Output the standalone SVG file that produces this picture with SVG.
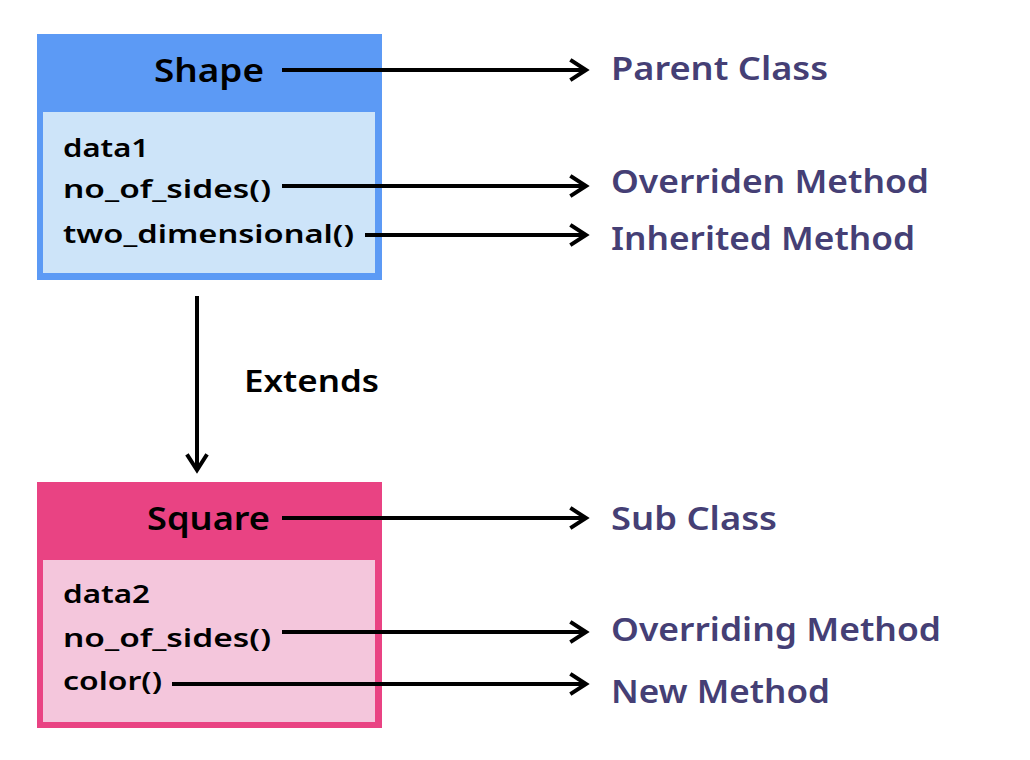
<svg xmlns="http://www.w3.org/2000/svg" width="1030" height="760" viewBox="0 0 1030 760">
<defs>
<marker id="chev" markerUnits="userSpaceOnUse" markerWidth="24" markerHeight="24" viewBox="-20 -12 24 24" refX="0" refY="0" orient="auto">
<polyline points="-14,-9 0,0 -14,9" fill="none" stroke="#000" stroke-width="4" stroke-linecap="square" stroke-linejoin="miter"/>
</marker>
</defs>
<style>
.t{font-family:"Noto Sans","Open Sans",sans-serif;font-weight:600;}
.title{font-size:32px;fill:#000;}
.mem{font-size:26px;fill:#000;}
.lab{font-size:32px;fill:#453f75;}
.ext{font-size:30px;fill:#000;}
.c{stroke:#000;stroke-width:4;fill:none;marker-end:url(#chev);}
</style>
<rect width="1030" height="760" fill="#fff"/>
<g id="shape">
<rect x="37" y="34" width="345" height="246" fill="#5c9af5"/>
<rect x="43" y="112" width="332" height="161" fill="#cde4f9"/>
<text class="t title" x="154" y="82" textLength="110" lengthAdjust="spacingAndGlyphs">Shape</text>
<text class="t mem" x="63" y="157" textLength="86" lengthAdjust="spacingAndGlyphs">data1</text>
<text class="t mem" x="63" y="198" textLength="208" lengthAdjust="spacingAndGlyphs">no_of_sides()</text>
<text class="t mem" x="63" y="243" textLength="291" lengthAdjust="spacingAndGlyphs">two_dimensional()</text>
</g>
<g id="square">
<rect x="37" y="482" width="345" height="246" fill="#e94383"/>
<rect x="43" y="560" width="332" height="162" fill="#f4c6dc"/>
<text class="t title" x="147" y="530" textLength="123" lengthAdjust="spacingAndGlyphs">Square</text>
<text class="t mem" x="63" y="603" textLength="87" lengthAdjust="spacingAndGlyphs">data2</text>
<text class="t mem" x="63" y="647" textLength="208" lengthAdjust="spacingAndGlyphs">no_of_sides()</text>
<text class="t mem" x="63" y="690" textLength="99" lengthAdjust="spacingAndGlyphs">color()</text>
</g>
<g id="labels">
<text class="t lab" x="611" y="80" textLength="217" lengthAdjust="spacingAndGlyphs">Parent Class</text>
<text class="t lab" x="611" y="193" textLength="318" lengthAdjust="spacingAndGlyphs">Overriden Method</text>
<text class="t lab" x="611" y="250" textLength="304" lengthAdjust="spacingAndGlyphs">Inherited Method</text>
<text class="t lab" x="611" y="530" textLength="166" lengthAdjust="spacingAndGlyphs">Sub Class</text>
<text class="t lab" x="611" y="641" textLength="330" lengthAdjust="spacingAndGlyphs">Overriding Method</text>
<text class="t lab" x="611" y="703" textLength="219" lengthAdjust="spacingAndGlyphs">New Method</text>
<text class="t ext" x="244" y="392" textLength="135" lengthAdjust="spacingAndGlyphs">Extends</text>
</g>
<g id="connectors">
<line class="c" x1="282" y1="70" x2="586" y2="70"/>
<line class="c" x1="282" y1="186" x2="586" y2="186"/>
<line class="c" x1="365" y1="235" x2="586" y2="235"/>
<line class="c" x1="197" y1="296" x2="197" y2="470"/>
<line class="c" x1="282" y1="518" x2="586" y2="518"/>
<line class="c" x1="282" y1="632" x2="586" y2="632"/>
<line class="c" x1="172" y1="684" x2="586" y2="684"/>
</g>
</svg>
